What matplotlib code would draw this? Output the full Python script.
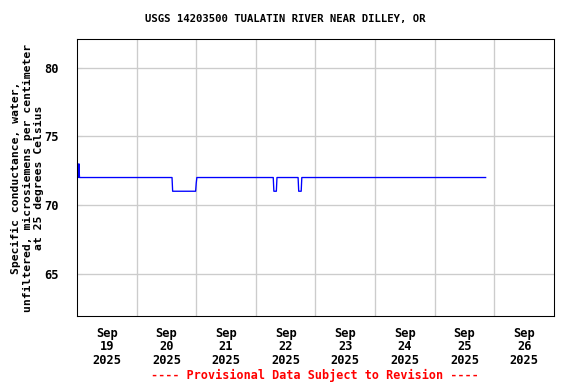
from datetime import datetime, timedelta

import matplotlib
matplotlib.use('Agg')
from matplotlib import pyplot as plt

# readings (15 min logger, only the change points kept)
times = [
    datetime(2025, 9, 19, 0, 0), datetime(2025, 9, 19, 0, 15), datetime(2025, 9, 19, 0, 30),
    datetime(2025, 9, 19, 0, 45), datetime(2025, 9, 19, 1, 0),
    datetime(2025, 9, 20, 14, 15), datetime(2025, 9, 20, 14, 30),
    datetime(2025, 9, 20, 23, 45), datetime(2025, 9, 21, 0, 0), datetime(2025, 9, 21, 0, 15),
    datetime(2025, 9, 22, 7, 0), datetime(2025, 9, 22, 7, 15),
    datetime(2025, 9, 22, 8, 15), datetime(2025, 9, 22, 8, 30),
    datetime(2025, 9, 22, 17, 0), datetime(2025, 9, 22, 17, 15),
    datetime(2025, 9, 22, 18, 15), datetime(2025, 9, 22, 18, 30),
    datetime(2025, 9, 25, 20, 30),
]
conductance = [
    72, 72.6, 72, 73, 72,
    72, 71,
    71, 71.6, 72,
    72, 71,
    71, 72,
    72, 71,
    71, 72,
    72,
]
y_ticks = [65, 70, 75, 80]

font = {'family': 'DejaVu Sans Mono', 'weight': 'bold', 'size': 8}
big = dict(font, size=9)

fig = plt.figure(figsize=(6, 4), dpi=96)
ax = fig.add_axes([0.1337, 0.177, 0.828, 0.7214])

ax.plot(times, conductance, color='blue', linewidth=1)

ax.set_xlim(datetime(2025, 9, 19), datetime(2025, 9, 27))
ax.set_ylim(61.9, 82.1)

noons = [datetime(2025, 9, 19, 12) + timedelta(days=i) for i in range(8)]
ax.set_xticks(noons)
ax.set_xticklabels([d.strftime('%b\n%d\n%Y') for d in noons], linespacing=1.05, **big)
ax.set_xticks([datetime(2025, 9, 20) + timedelta(days=i) for i in range(7)], minor=True)
ax.tick_params(axis='x', which='both', length=0, pad=8)
ax.grid(True, which='minor', axis='x', color='#cccccc', linewidth=1)

ax.set_yticks(y_ticks)
ax.set_yticklabels([str(v) for v in y_ticks], **big)
ax.tick_params(axis='y', direction='in', length=4, pad=14, color='#cccccc')
ax.grid(True, which='major', axis='y', color='#cccccc', linewidth=1)
ax.set_axisbelow(True)

ax.set_ylabel('Specific conductance, water,\nunfiltered, microsiemens per centimeter\nat 25 degrees Celsius',
              labelpad=0, linespacing=1.15, **dict(font, size=8.5))

fig.text(0.495, 0.95, 'USGS 14203500 TUALATIN RIVER NEAR DILLEY, OR', ha='center', va='center', **font)
fig.text(0.546, 0.022, '---- Provisional Data Subject to Revision ----', ha='center', va='center',
         color='red', **dict(font, size=8.8))

fig.savefig('out.png', dpi=96)
